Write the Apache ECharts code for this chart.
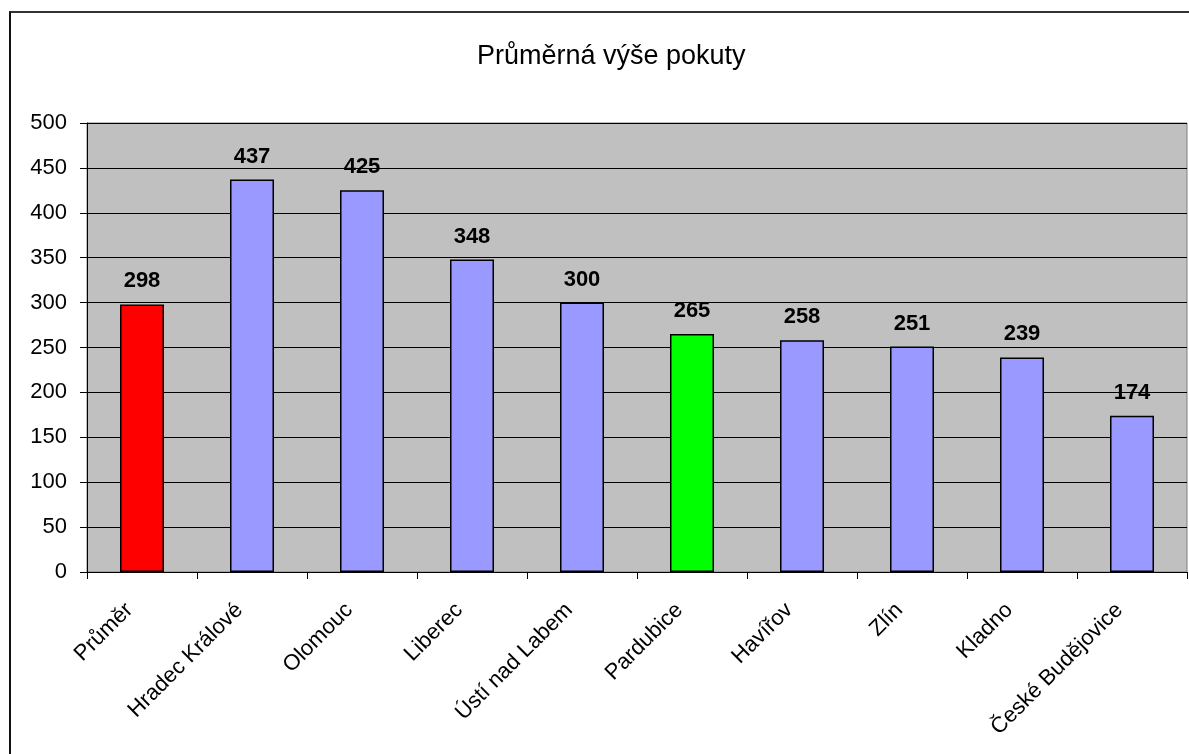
<!DOCTYPE html>
<html>
<head>
<meta charset="utf-8">
<script src="https://cdn.jsdelivr.net/npm/echarts@6/dist/echarts.min.js"></script>
<style>
    html, body { margin: 0; padding: 0; background: #fff; }
    #main { width: 1189px; height: 754px; position: relative; }
    /* rámeček kolem grafu */
    #frame { position: absolute; left: 9px; top: 11px; width: 1200px; height: 760px;
             border-left: 2px solid #111; border-top: 2px solid #333; pointer-events: none; }
</style>
</head>
<body>
<div id="main"></div>
<div id="frame"></div>
<script>
    // města a průměrná výše pokuty
    var cities = ['Průměr', 'Hradec Králové', 'Olomouc', 'Liberec', 'Ústí nad Labem',
                  'Pardubice', 'Havířov', 'Zlín', 'Kladno', 'České Budějovice'];
    var fines = [298, 437, 425, 348, 300, 265, 258, 251, 239, 174];
    var yTicks = [0, 50, 100, 150, 200, 250, 300, 350, 400, 450, 500];

    // barvy sloupců (průměr červeně, Pardubice zeleně)
    var barColors = {'Průměr': '#FF0000', 'Pardubice': '#00FF00'};
    var defaultColor = '#9999FF';

    var font = 'Liberation Sans, Arial, sans-serif';

    var chart = echarts.init(document.getElementById('main'));
    chart.setOption({
        animation: false,
        title: {
            text: 'Průměrná výše pokuty',
            left: 472,
            top: 38,
            textStyle: {fontFamily: font, fontSize: 27, fontWeight: 'normal', color: '#000'}
        },
        grid: {
            left: 87, right: 2, top: 123, bottom: 182,
            show: true,
            backgroundColor: '#C0C0C0',
            borderColor: '#808080',
            borderWidth: 1
        },
        xAxis: {
            type: 'category',
            data: cities,
            axisLine: {lineStyle: {color: '#000'}},
            axisTick: {show: true, length: 7, lineStyle: {color: '#000'}},
            axisLabel: {
                rotate: 45,
                margin: 22,
                padding: [0, 18, 0, 0],
                interval: 0,
                fontFamily: font,
                fontSize: 22,
                color: '#000'
            }
        },
        yAxis: {
            type: 'value',
            min: yTicks[0],
            max: yTicks[yTicks.length - 1],
            interval: yTicks[1] - yTicks[0],
            axisLine: {show: true, lineStyle: {color: '#000'}},
            axisTick: {show: true, length: 7, lineStyle: {color: '#000'}},
            axisLabel: {fontFamily: font, fontSize: 22, color: '#000', margin: 20},
            splitLine: {lineStyle: {color: '#000', width: 1}}
        },
        series: [{
            type: 'bar',
            barWidth: 44,
            data: fines.map(function (v, i) {
                return {
                    value: v,
                    itemStyle: {color: barColors[cities[i]] || defaultColor}
                };
            }),
            itemStyle: {borderColor: '#000', borderWidth: 1.5},
            label: {
                show: true,
                position: 'top',
                distance: 12,
                fontFamily: font,
                fontSize: 22,
                fontWeight: 'bold',
                color: '#000'
            }
        }]
    });
</script>
</body>
</html>
